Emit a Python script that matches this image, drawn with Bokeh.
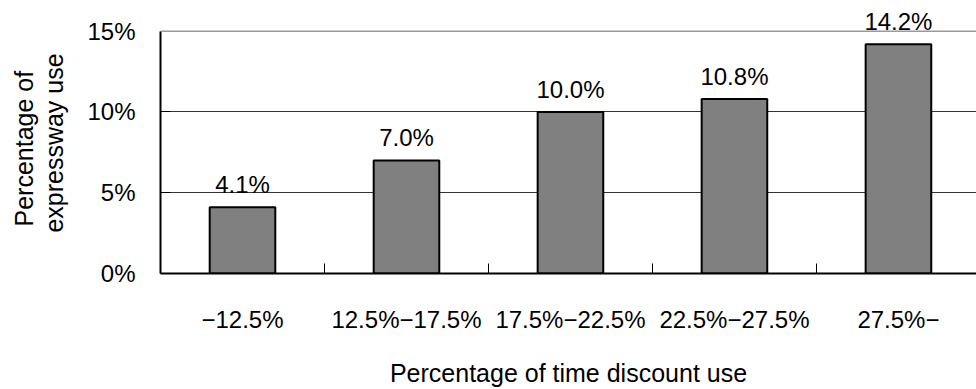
from bokeh.plotting import figure
from bokeh.models import (ColumnDataSource, Range1d, FixedTicker, LabelSet, Span, Title)
from bokeh.core.properties import value
from bokeh.embed import file_html
from bokeh.resources import INLINE

# Share of expressway use by time-discount band
categories = ["\u221212.5%", "12.5%\u221217.5%", "17.5%\u221222.5%", "22.5%\u221227.5%", "27.5%\u2212"]
usage_pct = [4.1, 7.0, 10.0, 10.8, 14.2]
y_ticks = [0, 5, 10, 15]
y_tick_labels = ["0%", "5%", "10%", "15%"]
y_title_lines = ["Percentage of", "expressway use"]
x_title = "Percentage of time discount use"

x_pos = [i + 0.5 for i in range(len(categories))]
source = ColumnDataSource(dict(
    x=x_pos,
    y=usage_pct,
    label=[f"{v:.1f}%" for v in usage_pct],
))

FONT = "Liberation Sans"
Y_MAX = y_ticks[-1]

# frame reaches a little above the 15% line so the top value label has room
p = figure(
    width=976, height=389,
    output_backend="svg", toolbar_location=None,
    x_range=Range1d(0, 4.976), y_range=Range1d(0, 16.16),
    min_border_left=160, min_border_right=0,
    min_border_top=12, min_border_bottom=112,
    background_fill_color="white", border_fill_color="white",
)
p.outline_line_color = None

p.vbar(x="x", top="y", width=0.4, source=source,
       fill_color="#808080", line_color="black", line_width=2)

p.add_layout(LabelSet(x="x", y="y", text="label", source=source,
                      text_align="center", text_baseline="alphabetic",
                      y_offset=14, text_font=value(FONT),
                      text_font_size=value("24px"), text_color="black"))

# horizontal grid, with a lighter line closing the top at 15%
p.xgrid.grid_line_color = None
p.ygrid.ticker = FixedTicker(ticks=y_ticks[1:-1])
p.ygrid.grid_line_color = "#333333"
p.ygrid.grid_line_width = 1
p.add_layout(Span(location=Y_MAX, dimension="width",
                  line_color="#9a9a9a", line_width=1.5))

# x axis: labels at category centres, separator ticks between categories
xa = p.xaxis[0]
xa.ticker = FixedTicker(ticks=x_pos, minor_ticks=list(range(1, len(categories))))
xa.major_label_overrides = {x: c for x, c in zip(x_pos, categories)}
xa.major_tick_in = 0
xa.major_tick_out = 0
xa.minor_tick_in = 10
xa.minor_tick_out = 0
xa.minor_tick_line_color = "black"
xa.axis_line_color = "black"
xa.axis_line_width = 2
xa.major_label_text_font = FONT
xa.major_label_text_font_size = "24px"
xa.major_label_text_color = "black"
xa.major_label_standoff = 32
xa.axis_label = x_title
xa.axis_label_text_font = FONT
xa.axis_label_text_font_size = "25px"
xa.axis_label_text_font_style = "normal"
xa.axis_label_text_color = "black"
xa.axis_label_standoff = 23

# y axis, line drawn only from 0% to 15%; second title line as its label
ya = p.yaxis[0]
ya.bounds = (0, Y_MAX)
ya.ticker = FixedTicker(ticks=y_ticks, minor_ticks=[])
ya.major_label_overrides = {t: s for t, s in zip(y_ticks, y_tick_labels)}
ya.major_tick_in = 10
ya.major_tick_out = 0
ya.major_tick_line_color = "black"
ya.axis_line_color = "black"
ya.axis_line_width = 2
ya.major_label_text_font = FONT
ya.major_label_text_font_size = "24px"
ya.major_label_text_color = "black"
ya.major_label_standoff = 25
ya.axis_label = y_title_lines[1]
ya.axis_label_text_font = FONT
ya.axis_label_text_font_size = "25px"
ya.axis_label_text_font_style = "normal"
ya.axis_label_text_color = "black"
ya.axis_label_standoff = 16

# first title line, outside the axis, starting 47 px above the frame bottom
p.add_layout(Title(text=y_title_lines[0], align="left", offset=47, standoff=0,
                   text_font=FONT, text_font_size="25px",
                   text_font_style="normal", text_color="black"), "left")

open("out.html", "w").write(file_html(p, INLINE))
